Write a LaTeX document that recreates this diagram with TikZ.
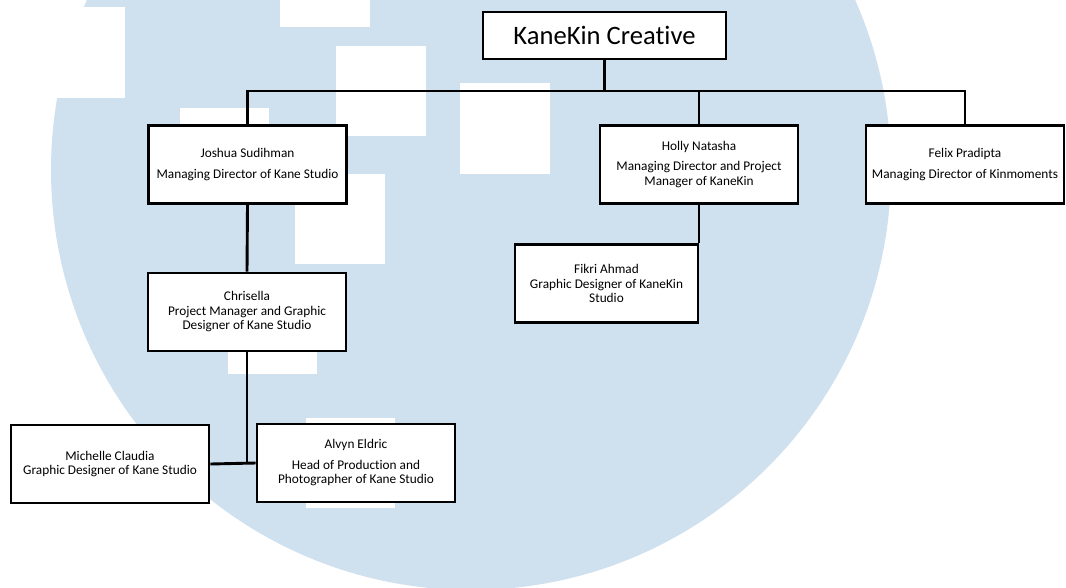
\documentclass[tikz,border=0pt]{standalone}
\usepackage{fontspec}
\setmainfont{Carlito}[Ligatures=NoCommon]
\usepackage{tikz}
\definecolor{wmblue}{RGB}{207,224,239}

\begin{document}
\begin{tikzpicture}[x=1pt, y=-1pt,
  person/.style={rectangle, draw, fill=white, line width=2.6pt, align=center,
    minimum width=198pt, minimum height=78pt, inner sep=0pt,
    font=\fontsize{13.3}{14.5}\selectfont},
  link/.style={line width=2.9pt}]
  \useasboundingbox (0,0) rectangle (1066,587);

  % Watermark
  \begin{scope}
    \clip (0,0) rectangle (1066,587);
    \fill[wmblue] (471,170) circle[radius=420];
    \fill[white] (0,7) rectangle (125,98);
    \fill[white] (280,0) rectangle (370,27);
    \fill[white] (336,46) rectangle (426,136);
    \fill[white] (460,83) rectangle (550,174);
    \fill[white] (180,108) rectangle (269,198);
    \fill[white] (295,174) rectangle (385,264);
    \fill[white] (228,284) rectangle (317,374);
    \fill[white] (306,418) rectangle (395,508);
  \end{scope}

  % Nodes
  \node[person, minimum width=243pt, minimum height=47pt, font=\fontsize{26.6}{30}\selectfont] (kanekin) at (604.5,35.5) {KaneKin Creative};
  \node[person] (joshua) at (247.5,164.5) {Joshua Sudihman\\[6pt]Managing Director of Kane Studio};
  \node[person] (holly) at (699,164.5) {Holly Natasha\\[6pt]Managing Director and Project\\Manager of KaneKin};
  \node[person] (felix) at (965,164.5) {Felix Pradipta\\[6pt]Managing Director of Kinmoments};
  \node[person] (chrisella) at (247,312) {Chrisella\\Project Manager and Graphic\\Designer of Kane Studio};
  \node[person, minimum width=183pt] (fikri) at (606.5,283.5) {Fikri Ahmad\\Graphic Designer of KaneKin\\Studio};
  \node[person] (michelle) at (110,464) {Michelle Claudia\\Graphic Designer of Kane Studio};
  \node[person] (alvyn) at (356,463) {Alvyn Eldric\\[6pt]Head of Production and\\Photographer of Kane Studio};
  \coordinate (bus) at (0,91);

  % Edges
  \draw[link] (kanekin.south) -- (kanekin.south |- bus);
  \draw[link] (joshua.north) -- (joshua.north |- bus) -- (felix.north |- bus) -- (felix.north);
  \draw[link] (holly.north) -- (holly.north |- bus);
  \draw[link] (joshua.south) -- (chrisella.north);
  \draw[link] (holly.south) -- (holly.south |- fikri.north);
  \draw[link] (chrisella.south) -- (chrisella.south |- michelle.east);
  \draw[link] (michelle.east) -- (alvyn.west);
\end{tikzpicture}
\end{document}
